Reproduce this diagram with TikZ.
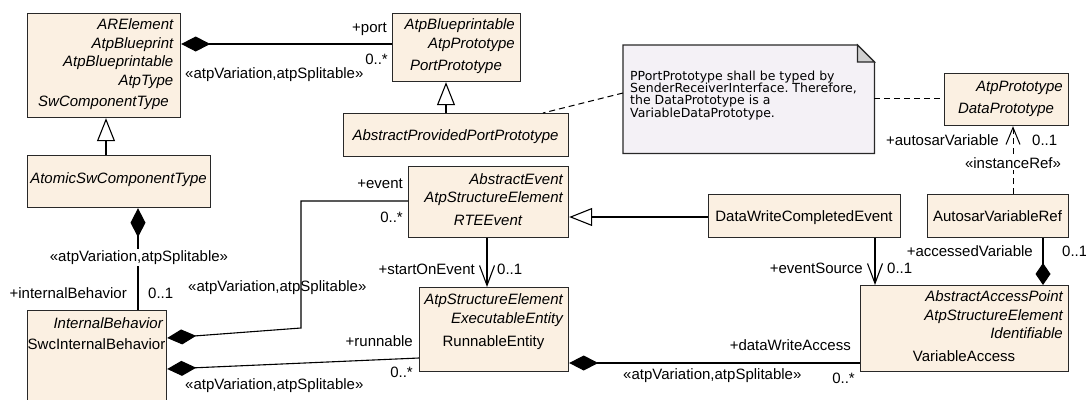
\documentclass[tikz,border=0pt]{standalone}
\usepackage{fontspec}
\setmainfont{Liberation Sans}
\newfontfamily\notefont{DejaVu Sans}
\usetikzlibrary{arrows.meta}
\definecolor{boxfill}{RGB}{251,240,226}
\definecolor{notefill}{RGB}{244,241,246}
\definecolor{foldfill}{RGB}{208,208,208}
\definecolor{edge}{RGB}{40,40,40}
\begin{document}
\begin{tikzpicture}[x=1pt,y=-1pt,
  box/.style={draw=edge, fill=boxfill, line width=1.2pt, inner sep=0pt, anchor=north west},
  lbl/.style={inner sep=0pt, font=\fontsize{15}{18}\selectfont},
  ilbl/.style={inner sep=0pt, font=\fontsize{15}{18}\selectfont\itshape},
  conn/.style={line width=1.1pt, draw=black},
  comp/.style={conn, {Diamond[length=29pt,width=15pt]}-},
  gen/.style={conn, -{Triangle[length=23pt,width=18pt,fill=white]}},
  nav/.style={conn, -{Straight Barb[length=20pt,width=15pt]}},
  dashln/.style={conn, line width=1pt, dash pattern=on 6pt off 4pt},
]
\useasboundingbox (0,0) rectangle (1086,399);
\clip (0,0) rectangle (1086,399);

% ---------- note ----------
\node[inner sep=0pt, anchor=north west, minimum width=251pt, minimum height=108pt] (note) at (623,45) {};
\draw[draw=edge, line width=1.2pt, fill=notefill] (note.north west) -- ([xshift=-17pt]note.north east) -- ([yshift=-17pt]note.north east) -- (note.south east) -- (note.south west) -- cycle;
\draw[draw=edge, line width=1.2pt, fill=foldfill] ([xshift=-17pt]note.north east) -- ([xshift=-17pt,yshift=-17pt]note.north east) -- ([yshift=-17pt]note.north east) -- cycle;
\node[anchor=north west, inner sep=0pt, align=left, font=\notefont\fontsize{12.5}{12.4}\selectfont\frenchspacing] (noteT) at (630,70.5)
 {PPortPrototype shall be typed by\\SenderReceiverInterface. Therefore,\\the DataPrototype is a\\VariableDataPrototype.};

% ---------- boxes ----------
\node[box, minimum width=153pt, minimum height=104pt] (are) at (27,13) {};
\node[ilbl, anchor=base east] (are1) at (173.5,29) {ARElement};
\node[ilbl, anchor=base east] (are2) at (173.5,48) {AtpBlueprint};
\node[ilbl, anchor=base east] (are3) at (173.5,66.5) {AtpBlueprintable};
\node[ilbl, anchor=base east] (are4) at (173.5,85) {AtpType};
\node[ilbl, anchor=base] (are5) at (103.5,106.5) {SwComponentType};

\node[box, minimum width=128pt, minimum height=68pt] (port) at (392,13) {};
\node[ilbl, anchor=base east] (port1) at (515,29) {AtpBlueprintable};
\node[ilbl, anchor=base east] (port2) at (515,48) {AtpPrototype};
\node[ilbl, anchor=base] (port3) at (456,70) {PortPrototype};

\node[box, minimum width=225pt, minimum height=43pt] (appp) at (343,113) {};
\node[ilbl, anchor=base] (appp1) at (455.5,140) {AbstractProvidedPortPrototype};

\node[box, minimum width=183pt, minimum height=52pt] (atomic) at (27,155) {};
\node[ilbl, anchor=base] (atomic1) at (118.5,183) {AtomicSwComponentType};

\node[box, minimum width=160pt, minimum height=71pt] (rte) at (408,166) {};
\node[ilbl, anchor=base east] (rte1) at (563,184) {AbstractEvent};
\node[ilbl, anchor=base east] (rte2) at (563,202.5) {AtpStructureElement};
\node[ilbl, anchor=base] (rte3) at (488,225) {RTEEvent};

\node[box, minimum width=192pt, minimum height=43pt] (dwce) at (708,194) {};
\node[lbl, anchor=base] (dwce1) at (804,221) {DataWriteCompletedEvent};

\node[box, minimum width=141pt, minimum height=43pt] (avr) at (927,194) {};
\node[lbl, anchor=base] (avr1) at (997.5,221) {AutosarVariableRef};

\node[box, minimum width=124pt, minimum height=52pt] (dp) at (944,73) {};
\node[ilbl, anchor=base east] (dp1) at (1063,91) {AtpPrototype};
\node[ilbl, anchor=base] (dp2) at (1006,113) {DataPrototype};

\node[box, minimum width=139pt, minimum height=100pt] (swc) at (27,310) {};
\node[ilbl, anchor=base east] (swc1) at (163,328) {InternalBehavior};
\node[lbl, anchor=base] (swc2) at (96.5,349) {SwcInternalBehavior};

\node[box, minimum width=149pt, minimum height=84pt] (re) at (419,287) {};
\node[ilbl, anchor=base east] (re1) at (563,304.5) {AtpStructureElement};
\node[ilbl, anchor=base east] (re2) at (563,323.5) {ExecutableEntity};
\node[lbl, anchor=base] (re3) at (493.5,346.5) {RunnableEntity};

\node[box, minimum width=208pt, minimum height=86pt] (va) at (860,285) {};
\node[ilbl, anchor=base east] (va1) at (1063,301.5) {AbstractAccessPoint};
\node[ilbl, anchor=base east] (va2) at (1063,320.5) {AtpStructureElement};
\node[ilbl, anchor=base east] (va3) at (1063,338.5) {Identifiable};
\node[lbl, anchor=base] (va4) at (964,361.5) {VariableAccess};

% ---------- connectors ----------
\draw[comp] (are.east |- 0,44) -- (port.west |- 0,44);
\draw[gen] (appp.north -| 446,0) -- (port.south -| 446,0);
\draw[gen] (atomic.north -| 106,0) -- (are.south -| 106,0);
\draw[comp] (atomic.south -| 138,0) -- (swc.north -| 138,0);
\draw[comp] (swc.east |- 0,338) -- (301,328) -- (301,201) -- (rte.west |- 0,201);
\draw[comp] (swc.east |- 0,369) -- (re.west |- 0,358);
\draw[gen] (dwce.west |- 0,217) -- (rte.east |- 0,217);
\draw[nav] (rte.south -| 487,0) -- (re.north -| 487,0);
\draw[nav] (dwce.south -| 875,0) -- (va.north -| 875,0);
\draw[conn, -{Diamond[length=22pt,width=15pt]}] (avr.south -| 1043,0) -- (va.north -| 1043,0);
\draw[dashln, -{Straight Barb[length=17pt,width=14pt]}] (avr.north -| 1013,0) -- (dp.south -| 1013,0);
\draw[comp] (re.east |- 0,363) -- (va.west |- 0,363);
\draw[dashln] (note.west |- 0,93) -- (appp.north -| 543,0);
\draw[dashln] (note.east |- 0,98) -- (dp.west |- 0,98);

% ---------- labels ----------
\node[lbl, anchor=base east] (l1) at (387,32) {+port};
\node[lbl, anchor=base east] (l2) at (388,64) {0..*};
\node[lbl, anchor=base west] (l3) at (185,78.5) {«atpVariation,atpSplitable»};
\node[lbl, anchor=base, fill=white, inner sep=1.5pt] (l4) at (139,261) {«atpVariation,atpSplitable»};
\node[lbl, anchor=base east] (l5) at (127,298.5) {+internalBehavior};
\node[lbl, anchor=base west] (l6) at (148,298.5) {0..1};
\node[lbl, anchor=base west] (l7) at (188,291.5) {«atpVariation,atpSplitable»};
\node[lbl, anchor=base east] (l8) at (403,188.5) {+event};
\node[lbl, anchor=base east] (l9) at (403,222) {0..*};
\node[lbl, anchor=base east] (l10) at (413,346) {+runnable};
\node[lbl, anchor=base east] (l11) at (413,377) {0..*};
\node[lbl, anchor=base west] (l12) at (185,389) {«atpVariation,atpSplitable»};
\node[lbl, anchor=base east] (l13) at (475,274) {+startOnEvent};
\node[lbl, anchor=base west] (l14) at (497,274) {0..1};
\node[lbl, anchor=base east] (l15) at (851,350) {+dataWriteAccess};
\node[lbl, anchor=base west] (l16) at (623,379.5) {«atpVariation,atpSplitable»};
\node[lbl, anchor=base east] (l17) at (855,383) {0..*};
\node[lbl, anchor=base east] (l18) at (863,273.5) {+eventSource};
\node[lbl, anchor=base west] (l19) at (887,273.5) {0..1};
\node[lbl, anchor=base east] (l20) at (1033,256.5) {+accessedVariable};
\node[lbl, anchor=base west] (l21) at (1062,256.5) {0..1};
\node[lbl, anchor=base east] (l22) at (999,145) {+autosarVariable};
\node[lbl, anchor=base west] (l23) at (1032,145) {0..1};
\node[lbl, anchor=base, fill=white, inner sep=1.5pt] (l24) at (1013,168.5) {«instanceRef»};
\end{tikzpicture}
\end{document}
